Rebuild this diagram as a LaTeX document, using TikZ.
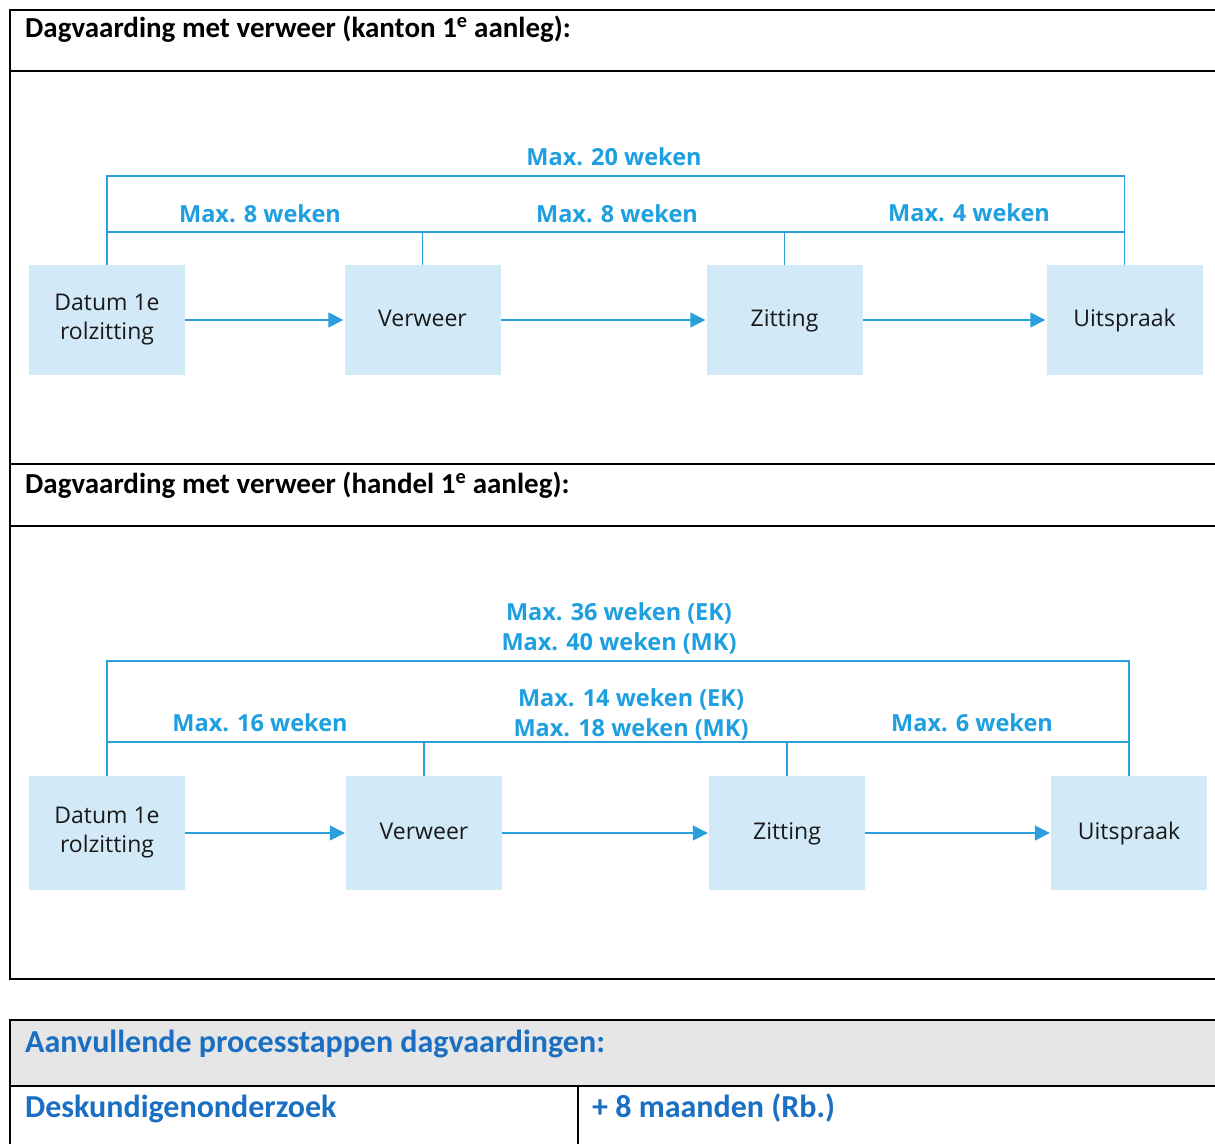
\documentclass[tikz,border=0pt]{standalone}
\usepackage{fontspec}
\setmainfont{Open Sans}
\newfontfamily\calib{Carlito}
\usetikzlibrary{arrows.meta}
\definecolor{boxfill}{HTML}{D2E9F7}
\definecolor{lineblue}{HTML}{2A9FDB}
\definecolor{lblblue}{HTML}{1E9FE0}
\definecolor{tblblue}{HTML}{1A6FC2}
\definecolor{tblgray}{HTML}{E6E6E6}
\tikzset{
  frame/.style={line width=2pt, draw=black},
  stepbox/.style={fill=boxfill, draw=none, minimum width=156pt, inner sep=0pt, align=center,
    font=\fontsize{23}{29}\selectfont, text=black!90},
  oneline/.style={text height=17pt, text depth=5pt},
  bl/.style={draw=lineblue, line width=1.5pt},
  flow/.style={bl, -{Triangle[length=15pt,width=15pt]}, shorten >=1pt},
  lbl/.style={text=lblblue, font=\fontsize{23.5}{30}\selectfont\bfseries, align=center, inner sep=0pt},
  head/.style={anchor=base west, inner sep=0pt, font=\calib\fontsize{29}{32}\selectfont\bfseries},
  thead/.style={anchor=base west, inner sep=0pt, text=tblblue, font=\calib\fontsize{32}{34}\selectfont\bfseries},
}
\begin{document}
\begin{tikzpicture}[x=1pt,y=-1pt]
\useasboundingbox (0,0) rectangle (1215,1144);
\fill[white] (0,0) rectangle (1215,1144);
% frames
\fill[tblgray] (10,1020) rectangle (1215,1086);
\draw[frame] (1215,10) -- (10,10) -- (10,979) -- (1215,979);
\draw[frame] (10,71) -- (1215,71);
\draw[frame] (10,464) -- (1215,464);
\draw[frame] (10,526) -- (1215,526);
\draw[frame] (1215,1020) -- (10,1020) -- (10,1144);
\draw[frame] (10,1086) -- (1215,1086);
\draw[frame] (578,1086) -- (578,1144);
% headings
\node[head] (h1) at (25,37) {Dagvaarding met verweer (kanton 1\textsuperscript{e} aanleg):};
\node[head] (h2) at (25,493) {Dagvaarding met verweer (handel 1\textsuperscript{e} aanleg):};
\node[thead] (h3) at (25,1052) {Aanvullende processtappen dagvaardingen:};
\node[thead] (t1) at (25,1117) {Deskundigenonderzoek};
\node[thead] (t2) at (592,1117) {+ 8 maanden (Rb.)};
% section 1
\node[stepbox, minimum height=110pt] (d1) at (107,320) {Datum 1e\\rolzitting};
\node[stepbox, oneline, minimum height=110pt] (v1) at (422.5,320) {Verweer};
\node[stepbox, oneline, minimum height=110pt] (z1) at (784.5,320) {Zitting};
\node[stepbox, oneline, minimum height=110pt] (u1) at (1124.5,320) {Uitspraak};
\draw[flow] (d1) -- (v1);
\draw[flow] (v1) -- (z1);
\draw[flow] (z1) -- (u1);
\coordinate (top1) at (614,176);
\coordinate (mid1) at (600,232);
\draw[bl] (d1.north) |- (top1) -| (u1.north);
\draw[bl] (d1.north |- mid1) -| (v1.north);
\draw[bl] (v1.north) |- (mid1) -| (z1.north);
\draw[bl] (z1.north) |- (u1.north |- mid1);
\node[lbl] (l1) at (614,157) {Max. 20 weken};
\node[lbl] (l2) at (260,214) {Max. 8 weken};
\node[lbl] (l3) at (617,214) {Max. 8 weken};
\node[lbl] (l4) at (969,213) {Max. 4 weken};
% section 2
\node[stepbox, minimum height=114pt] (d2) at (107,833) {Datum 1e\\rolzitting};
\node[stepbox, oneline, minimum height=114pt] (v2) at (424,833) {Verweer};
\node[stepbox, oneline, minimum height=114pt] (z2) at (787,833) {Zitting};
\node[stepbox, oneline, minimum height=114pt] (u2) at (1129,833) {Uitspraak};
\draw[flow] (d2) -- (v2);
\draw[flow] (v2) -- (z2);
\draw[flow] (z2) -- (u2);
\coordinate (top2) at (618,661);
\coordinate (mid2) at (600,742);
\draw[bl] (d2.north) |- (top2) -| (u2.north);
\draw[bl] (d2.north |- mid2) -| (v2.north);
\draw[bl] (v2.north) |- (mid2) -| (z2.north);
\draw[bl] (z2.north) |- (u2.north |- mid2);
\node[lbl] (l5) at (619,628) {Max. 36 weken (EK)\\Max. 40 weken (MK)};
\node[lbl] (l6) at (260,723) {Max. 16 weken};
\node[lbl] (l7) at (631,714) {Max. 14 weken (EK)\\Max. 18 weken (MK)};
\node[lbl] (l8) at (972,723) {Max. 6 weken};
\end{tikzpicture}
\end{document}
